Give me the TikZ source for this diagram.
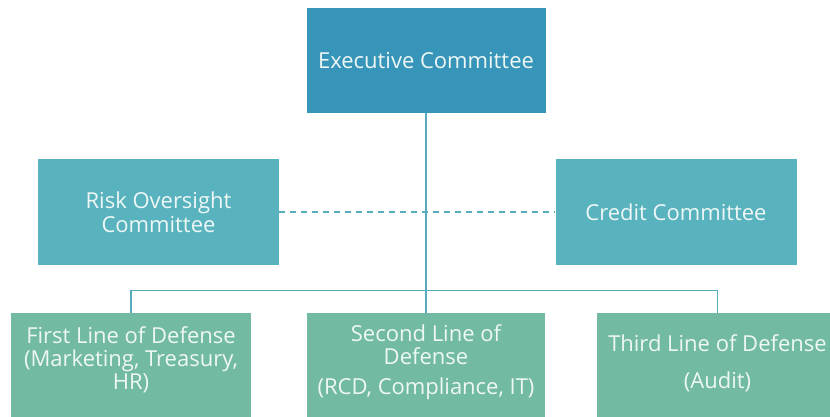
\documentclass[tikz,border=0pt]{standalone}
\usepackage{fontspec}
\setmainfont{Open Sans}
\definecolor{execblue}{RGB}{55,149,185}
\definecolor{cmteal}{RGB}{88,179,190}
\definecolor{defgreen}{RGB}{114,187,162}
\definecolor{linkteal}{RGB}{86,172,186}
\definecolor{boxtext}{RGB}{238,247,246}
\begin{document}
\begin{tikzpicture}[x=1pt,y=-1pt,
  box/.style={rectangle, inner sep=0pt, align=center, text=boxtext,
    font=\fontsize{22}{23}\selectfont},
  execbox/.style={box, fill=execblue, minimum width=239pt, minimum height=105pt},
  cmbox/.style={box, fill=cmteal, minimum width=241pt, minimum height=106pt},
  defbox/.style={box, fill=defgreen, minimum width=240pt, minimum height=107pt},
  deftext/.style={box},
  link/.style={draw=linkteal, line width=1.4pt},
  dotlink/.style={draw=linkteal, line width=1.4pt, dash pattern=on 6pt off 5pt}]
\useasboundingbox (0,0) rectangle (830,417);
\fill[white] (0,0) rectangle (830,417);
\clip (0,0) rectangle (830,417);

% committees
\node[execbox] (exec) at (426,60.5) {Executive Committee};
\node[cmbox] (risk) at (158.5,212) {Risk Oversight\\[1pt]Committee};
\node[cmbox] (credit) at (676,212) {Credit Committee};

% lines of defense: boxes run past the lower edge, captions sit a little high
\node[defbox] (first) at (131,366.5) {};
\node[defbox, minimum width=238pt] (second) at (426,366.5) {};
\node[defbox, minimum width=241pt] (third) at (717.5,366.5) {};
\node[deftext, yshift=7pt] (firsttext) at (first.center) {First Line of Defense\\(Marketing, Treasury,\\HR)};
\node[deftext, yshift=4pt] (secondtext) at (second.center) {Second Line of\\Defense\\[7pt](RCD, Compliance, IT)};
\node[deftext, yshift=3pt] (thirdtext) at (third.center) {Third Line of Defense\\[14pt](Audit)};

% connectors
\path (exec.south) ++(0,177) coordinate (hub);
\draw[dotlink] (risk.east) -- (credit.west);
\draw[link] (exec.south) -- (hub);
\draw[link] (first.north) |- (hub) -| (third.north);
\draw[link] (hub) -- (second.north);
\end{tikzpicture}
\end{document}
